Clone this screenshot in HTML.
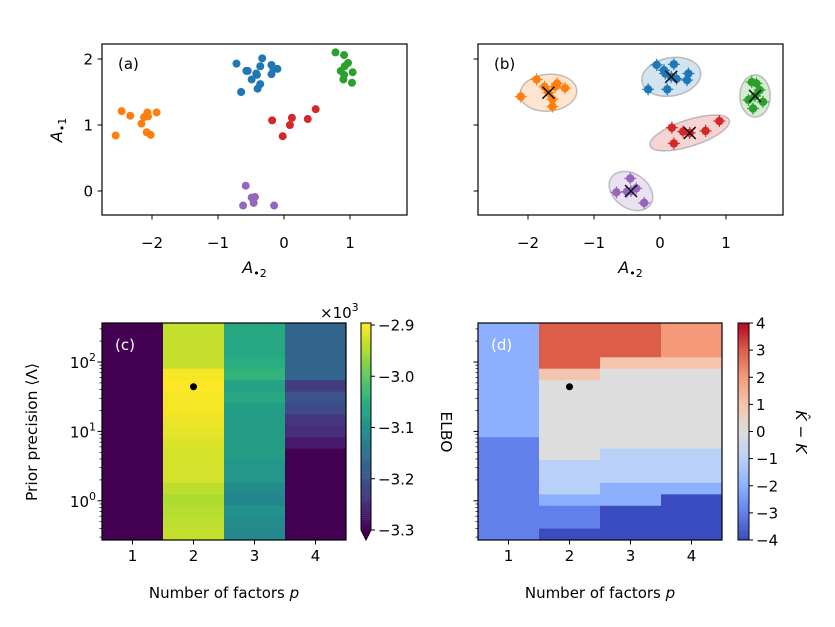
<!DOCTYPE html>
<html><head><meta charset="utf-8">
<style>
html,body{margin:0;padding:0;background:#fff;}
svg{display:block;font-family:"DejaVu Sans","Liberation Sans",sans-serif;}
</style></head>
<body>
<svg id="fig" width="835" height="627" viewBox="0 0 835 627" xmlns="http://www.w3.org/2000/svg">
</svg>
<script>
// ---------- DATA ----------
const clusterNames = ['blue','orange','green','red','purple'];
const clusterColors = ['#1f77b4','#ff7f0e','#2ca02c','#d62728','#9467bd'];
const pointsA_x = [
 [-0.72,-0.33,-0.36,-0.57,-0.42,-0.49,-0.36,-0.40,-0.65,-0.19,-0.16,-0.10,-0.19,-0.55,-0.41],
 [-2.46,-2.33,-2.07,-1.93,-2.12,-2.06,-2.16,-2.08,-2.02,-2.55],
 [0.78,0.91,0.97,0.92,0.86,1.04,0.91,0.90,1.03],
 [0.48,0.36,0.12,-0.18,0.09,-0.02],
 [-0.58,-0.44,-0.49,-0.46,-0.62,-0.15]];
const pointsA_y = [
 [1.93,2.01,1.89,1.82,1.78,1.69,1.62,1.55,1.50,1.91,1.85,1.85,1.77,1.82,1.76],
 [1.21,1.14,1.19,1.19,1.12,1.13,1.02,0.89,0.85,0.84],
 [2.10,2.06,1.94,1.89,1.82,1.80,1.76,1.69,1.64],
 [1.24,1.09,1.11,1.07,1.00,0.83],
 [0.08,-0.09,-0.10,-0.18,-0.22,-0.22]];
const pointsB_x = [
 [-0.05,0.21,-0.18,0.11,0.43,0.41,0.08,0.06,0.17,0.25],
 [-2.11,-1.87,-1.56,-1.44,-1.63,-1.63,-1.75,-1.59,-1.69],
 [1.39,1.46,1.34,1.56,1.41,1.51,1.44],
 [0.18,0.21,0.35,0.69,0.90,0.45],
 [-0.45,-0.66,-0.36,-0.24,-0.50,-0.44]];
const pointsB_y = [
 [1.91,1.92,1.54,1.54,1.78,1.68,1.78,1.83,1.73,1.70],
 [1.43,1.69,1.63,1.56,1.39,1.28,1.58,1.58,1.49],
 [1.65,1.63,1.38,1.35,1.25,1.53,1.44],
 [0.96,0.72,0.90,0.91,1.06,0.88],
 [0.19,-0.02,0.04,-0.18,-0.01,0.00]];
const centersX = [0.17,-1.69,1.44,0.45,-0.44];
const centersY = [1.73,1.49,1.44,0.88,0.00];
const ellipseRx = [0.45,0.43,0.23,0.63,0.36];   // data units
const ellipseRy = [0.29,0.28,0.32,0.20,0.26];
const ellipseAngle = [-10,-5,0,-18,35];
const xTicks = [-2,-1,0,1];
const yTicks = [0,1,2];

const factors = [1,2,3,4];
const elbo_p1 = [-3.35,-3.35,-3.35,-3.35,-3.35,-3.35,-3.35,-3.35,-3.35,-3.35,-3.35,-3.35,-3.35,-3.35,-3.35,-3.35,-3.35,-3.35,-3.35];
const elbo_p2 = [-2.935,-2.935,-2.935,-2.935,-2.905,-2.9,-2.905,-2.905,-2.91,-2.915,-2.92,-2.925,-2.925,-2.925,-2.94,-2.95,-2.945,-2.94,-2.935];
const elbo_p3 = [-3.06,-3.06,-3.06,-3.05,-3.04,-3.07,-3.06,-3.08,-3.08,-3.08,-3.08,-3.08,-3.09,-3.09,-3.11,-3.12,-3.10,-3.11,-3.115];
const elbo_p4 = [-3.17,-3.17,-3.17,-3.17,-3.17,-3.23,-3.20,-3.21,-3.24,-3.25,-3.27,-3.35,-3.35,-3.35,-3.35,-3.35,-3.35,-3.35,-3.35];
const dK_p1 = [-2,-2,-2,-2,-2,-2,-2,-2,-2,-2,-3,-3,-3,-3,-3,-3,-3,-3,-3];
const dK_p2 = [3,3,3,3,1,0,0,0,0,0,0,0,-1,-1,-1,-2,-3,-3,-4];
const dK_p3 = [3,3,3,1,0,0,0,0,0,0,0,-1,-1,-1,-2,-2,-4,-4,-4];
const dK_p4 = [2,2,2,1,0,0,0,0,0,0,0,-1,-1,-1,-2,-4,-4,-4,-4];
const bestP = 2, bestPrecision = 44;
const elboTicks = [-2.9,-3.0,-3.1,-3.2,-3.3];
const elboTickLabels = ['\u22122.9','\u22123.0','\u22123.1','\u22123.2','\u22123.3'];
const dKTicks = [4,3,2,1,0,-1,-2,-3,-4];
const logTicks = [0,1,2];

// ---------- HELPERS ----------
const NS='http://www.w3.org/2000/svg';
const svg=document.getElementById('fig');
const FS=15;
function mk(tag,attrs,parent){const e=document.createElementNS(NS,tag);for(const k in attrs)e.setAttribute(k,attrs[k]);(parent||svg).appendChild(e);return e;}
function txt(s,x,y,size,anchor,fill,parent){const t=mk('text',{x:x,y:y,'font-size':size,'text-anchor':anchor||'middle',fill:fill||'#000'},parent);t.textContent=s;return t;}
function lerpHex(stops,t){t=Math.max(0,Math.min(1,t));const n=stops.length-1;const i=Math.min(n-1,Math.floor(t*n));const f=t*n-i;
 const a=stops[i],b=stops[i+1];const c=[0,1,2].map(k=>{const va=parseInt(a.substr(1+2*k,2),16),vb=parseInt(b.substr(1+2*k,2),16);return Math.round(va+(vb-va)*f);});
 return 'rgb('+c.join(',')+')';}
const viridis=['#440154','#472d7b','#3b528b','#2c728e','#21918c','#28ae80','#5ec962','#addc30','#fde725'];
const coolwarm=['#3b4cc0','#6180e9','#8db0fe','#b9d0f9','#dddddd','#f5c4ac','#f49a7b','#dc5d4a','#b40426'];

// ---------- SCATTER PANELS ----------
const sc=66;
const ya=v=>191-sc*v;
function scatterPanel(left,right,x0,label,withErr,name){
 const g=mk('g',{});
 
 
 const xs=v=>x0+sc*v;
 const clip='clip-'+name;
 const cp=mk('clipPath',{id:clip},g);mk('rect',{x:left,y:44,width:right-left,height:171},cp);
 const inner=mk('g',{'clip-path':'url(#'+clip+')'},g);
 const src=withErr?[pointsB_x,pointsB_y]:[pointsA_x,pointsA_y];
 if(withErr){
  for(let c=0;c<5;c++){
   const el=mk('ellipse',{cx:xs(centersX[c]),cy:ya(centersY[c]),rx:ellipseRx[c]*sc,ry:ellipseRy[c]*sc,fill:clusterColors[c],'fill-opacity':0.2,stroke:'#888','stroke-opacity':0.5,'stroke-width':1.5,transform:'rotate('+ellipseAngle[c]+' '+xs(centersX[c])+' '+ya(centersY[c])+')'},inner);
   
   
  }
 }
 for(let c=0;c<5;c++){
  for(let i=0;i<src[0][c].length;i++){
   const px=xs(src[0][c][i]),py=ya(src[1][c][i]);
   if(withErr){
    mk('line',{x1:px-6,y1:py,x2:px+6,y2:py,stroke:clusterColors[c],'stroke-width':1.2},inner);
    mk('line',{x1:px,y1:py-6,x2:px,y2:py+6,stroke:clusterColors[c],'stroke-width':1.2},inner);
   }
   const p=mk('circle',{cx:px,cy:py,r:withErr?4.2:4,fill:clusterColors[c]},inner);
   
   
  }
 }
 if(withErr){
  for(let c=0;c<5;c++){
   const cx=xs(centersX[c]),cy=ya(centersY[c]);
   const m=mk('path',{d:`M${cx-6},${cy-6}L${cx+6},${cy+6}M${cx-6},${cy+6}L${cx+6},${cy-6}`,stroke:'#111','stroke-width':1.5},inner);
   
   
  }
 }
 mk('rect',{x:left,y:44,width:right-left,height:171,fill:'none',stroke:'#000','stroke-width':1.2},g);
 xTicks.forEach(v=>{mk('line',{x1:xs(v),y1:215,x2:xs(v),y2:219.5,stroke:'#000'},g);
  txt(v<0?'\u2212'+(-v):String(v),xs(v),248,FS,'middle','#000',g);});
 yTicks.forEach(v=>{mk('line',{x1:left-4.5,y1:ya(v),x2:left,y2:ya(v),stroke:'#000'},g);
  if(!withErr) txt(String(v),left-9,ya(v)+5.5,FS,'end','#000',g);});
 const xl=txt('',(left+right)/2,273,16,'middle','#000',g);
 xl.innerHTML='<tspan font-style="italic">A</tspan><tspan font-size="11" dy="4">\u20222</tspan>';
 
 
 const pl=txt(label,left+16,69,15,'start','#000',g);
 
 
}
scatterPanel(102,407,284,'(a)',false,'panel-a');
scatterPanel(478,783,660,'(b)',true,'panel-b');
const yl=txt('',0,0,16,'middle','#000');
yl.setAttribute('transform','translate(62,130) rotate(-90)');
yl.innerHTML='<tspan font-style="italic">A</tspan><tspan font-size="11" dy="4">\u20221</tspan>';



// ---------- HEATMAP PANELS ----------
const logTop=2+(362-323)/69.4, logBot=(362-540)/69.4+2;
const nRows=19;
const ly=l=>362-69.4*(l-2);
const colW=61;
function heatPanel(left,series,colorFn,name,label){
 const g=mk('g',{});
 
 
 const step=(logTop-logBot)/nRows;
 series.forEach((col,ci)=>{
  col.forEach((v,ri)=>{
   const yT=ly(logTop-ri*step), yB=ly(logTop-(ri+1)*step);
   const r=mk('rect',{x:left+ci*colW,y:yT,width:colW+0.5,height:yB-yT+0.5,fill:colorFn(v)},g);
   
   
  });
 });
 const d=mk('circle',{cx:left+(bestP-0.5)*colW,cy:ly(Math.log10(bestPrecision)),r:3.5,fill:'#000'},g);
 
 
 mk('rect',{x:left,y:323,width:244,height:217,fill:'none',stroke:'#000','stroke-width':1.2},g);
 factors.forEach((f,i)=>{const x=left+(i+0.5)*colW;mk('line',{x1:x,y1:540,x2:x,y2:544.5,stroke:'#000'},g);
  txt(String(f),x,561,FS,'middle','#000',g);});
 for(let dec=-1;dec<=2;dec++){for(let m=1;m<10;m++){const l=dec+Math.log10(m);if(l<logBot||l>logTop)continue;
  const major=m===1;mk('line',{x1:left-(major?4.5:2.5),y1:ly(l),x2:left,y2:ly(l),stroke:'#000','stroke-width':major?1:0.7},g);}}
 const t=txt('',left+122,598,15,'middle','#000',g);
 t.innerHTML='Number of factors <tspan font-style="italic">p</tspan>';
 
 
 const pl=txt(label,left+13,350,15,'start','#fff',g);
 
 
 return g;
}
const vir=v=>lerpHex(viridis,(v+3.3)/0.4);
const cw=v=>lerpHex(coolwarm,(v+4)/8);
heatPanel(102,[elbo_p1,elbo_p2,elbo_p3,elbo_p4],vir,'panel-c','(c)');
heatPanel(478,[dK_p1,dK_p2,dK_p3,dK_p4],cw,'panel-d','(d)');
logTicks.forEach(l=>{const t=txt('',96,ly(l)+6,FS,'end');t.innerHTML='10<tspan font-size="11" dy="-7">'+l+'</tspan>';
 
 });
const pyl=txt('Prior precision \u27e8\u039b\u27e9',0,0,15.5,'middle');
pyl.setAttribute('transform','translate(37,432) rotate(-90)');



// ---------- COLORBARS ----------
const cb1=mk('g',{});


const cbY=v=>325+(-2.9-v)/0.4*205;
for(let i=0;i<100;i++){const v0=-2.9-0.4*i/100;mk('rect',{x:361,y:cbY(v0),width:10,height:2.2,fill:vir(v0-0.002)},cb1);}
mk('rect',{x:361,y:323,width:10,height:2.5,fill:vir(-2.9)},cb1);
mk('path',{d:'M361,530L371,530L366,540Z',fill:vir(-3.4)},cb1);
mk('path',{d:'M361,323L371,323L371,530L366,540L361,530Z',fill:'none',stroke:'#000','stroke-width':1},cb1);
elboTicks.forEach((v,i)=>{mk('line',{x1:371,y1:cbY(v),x2:375,y2:cbY(v),stroke:'#000'},cb1);txt(elboTickLabels[i],378,cbY(v)+5.5,FS,'start','#000',cb1);});
const ex=txt('',320,318,15,'start','#000',cb1);ex.innerHTML='\u00d710<tspan font-size="11" dy="-7">3</tspan>';
const el=txt('ELBO',0,0,15.5,'middle','#000',cb1);el.setAttribute('transform','translate(441,432) rotate(90)');



const cb2=mk('g',{});


const cdY=v=>323+(4-v)/8*217;
for(let i=0;i<100;i++){const v0=4-8*i/100;mk('rect',{x:738,y:cdY(v0),width:11,height:2.4,fill:cw(v0-0.04)},cb2);}
mk('rect',{x:738,y:323,width:11,height:217,fill:'none',stroke:'#000','stroke-width':1},cb2);
dKTicks.forEach(v=>{mk('line',{x1:749,y1:cdY(v),x2:753,y2:cdY(v),stroke:'#000'},cb2);txt(v<0?'\u2212'+(-v):String(v),756,cdY(v)+5.5,FS,'start','#000',cb2);});
const kl=txt('',0,0,15.5,'middle','#000',cb2);kl.setAttribute('transform','translate(796,432) rotate(90)');
kl.innerHTML='<tspan font-style="italic">K\u0302</tspan> \u2212 <tspan font-style="italic">K</tspan>';


</script>
</body></html>
